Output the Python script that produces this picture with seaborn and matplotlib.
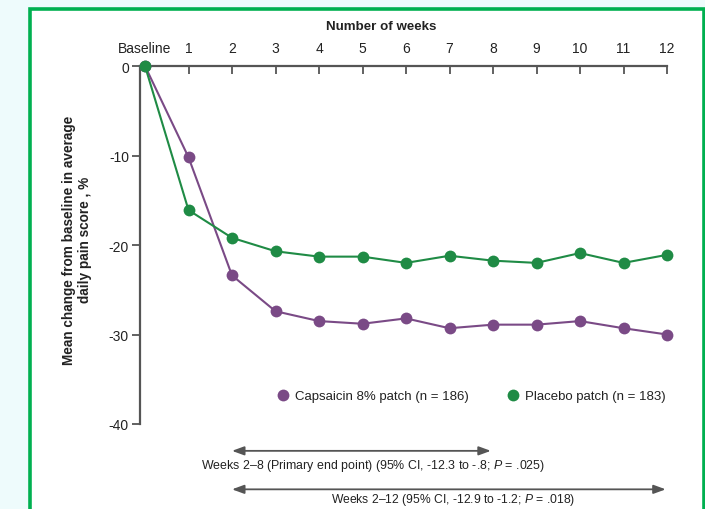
import matplotlib
matplotlib.use("Agg")
import matplotlib.pyplot as plt
import seaborn as sns
import pandas as pd
from matplotlib.patches import Rectangle
from matplotlib.lines import Line2D
from matplotlib import font_manager

weeks = list(range(0, 13))
week_labels = ["Baseline", "1", "2", "3", "4", "5", "6", "7", "8", "9", "10", "11", "12"]
capsaicin = [0, -10.2, -23.4, -27.4, -28.5, -28.8, -28.2, -29.3, -28.9, -28.9, -28.5, -29.3, -30.0]
placebo = [0, -16.1, -19.2, -20.7, -21.3, -21.3, -22.0, -21.2, -21.75, -22.0, -20.9, -22.0, -21.1]
series_names = ["Capsaicin 8% patch (n = 186)", "Placebo patch (n = 183)"]
y_ticks = [0, -10, -20, -30, -40]
y_tick_labels = ["0", "-10", "-20", "-30", "-40"]
text_8 = r"Weeks 2–8 (Primary end point) (95% CI, -12.3 to -.8; $\it{P}$ = .025)"
text_12 = r"Weeks 2–12 (95% CI, -12.9 to -1.2; $\it{P}$ = .018)"

df = pd.DataFrame({
    "week": weeks * 2,
    "value": capsaicin + placebo,
    "group": [series_names[0]] * len(weeks) + [series_names[1]] * len(weeks),
})

sns.set_theme(style="white")
names = {f.name for f in font_manager.fontManager.ttflist}
base = "Liberation Sans Narrow" if "Liberation Sans Narrow" in names else "Liberation Sans"
plt.rcParams["font.family"] = [base, "DejaVu Sans"]
plt.rcParams["mathtext.fontset"] = "custom"
plt.rcParams["mathtext.it"] = base + ":italic"
plt.rcParams["mathtext.rm"] = base

purple = "#7a4a86"
green = "#1f8b45"
grey = "#555555"
txt = "#222222"
W, H = 705, 510
fig = plt.figure(figsize=(7.05, 5.1), dpi=100)
fig.patch.set_facecolor("#eefbfc")
fig.patches.append(Rectangle((30 / W, -0.1), (703.5 - 30) / W, 1.1 - 9.5 / H,
                             transform=fig.transFigure, facecolor="white",
                             edgecolor="#00b050", linewidth=2.6, zorder=-5))

ax = fig.add_axes([140 / W, 1 - 425 / H, (667 - 140) / W, (425 - 67) / H])
ax.set_zorder(1)
ax.set_facecolor("none")
sns.lineplot(data=df, x="week", y="value", hue="group", palette=[purple, green],
             marker="o", markersize=8.5, markeredgewidth=0, linewidth=1.5,
             ax=ax, legend=False, zorder=3)
for ln in ax.lines:
    ln.set_clip_on(False)

ax.set_xlim(-0.115, 12)
ax.set_ylim(-40, 0)
for s in ["right", "bottom"]:
    ax.spines[s].set_visible(False)
for s in ["left", "top"]:
    ax.spines[s].set_color(grey)
    ax.spines[s].set_linewidth(1.6)
ax.xaxis.set_ticks_position("top")
ax.xaxis.set_label_position("top")
ax.set_xticks(weeks)
ax.set_xticklabels(week_labels)
ax.tick_params(axis="x", direction="in", length=6, width=1.3, color=grey,
               labelsize=10, pad=8, labelcolor=txt, top=True, bottom=False)
ax.set_yticks(y_ticks)
ax.set_yticklabels(y_tick_labels)
ax.tick_params(axis="y", direction="out", length=6, width=1.3, color=grey,
               labelsize=10, pad=2, labelcolor=txt, left=True)
ax.xaxis.get_major_ticks()[0].tick2line.set_visible(False)
ax.set_xlabel("")
ax.set_ylabel("")
fig.text(381 / W, 1 - 27 / H, "Number of weeks", ha="center", va="center",
         fontsize=9.6, fontweight="bold", color=txt)
fig.text(77 / W, 1 - 240 / H, "Mean change from baseline in average\ndaily pain score , %",
         rotation=90, ha="center", va="center", fontsize=9.8, fontweight="bold",
         color=txt, linespacing=1.2)

handles = [Line2D([], [], marker="o", linestyle="none", color=c, markersize=8.5,
                  markeredgewidth=0) for c in [purple, green]]
leg = ax.legend(handles, series_names, loc="center", bbox_to_anchor=((471 - 140) / 527, (425 - 397) / 358),
                ncol=2, frameon=False, fontsize=9.5, handletextpad=0.4, columnspacing=2.9,
                handlelength=1.0, borderpad=0, borderaxespad=0)
for t in leg.get_texts():
    t.set_color(txt)

arrow_kw = dict(arrowstyle="<|-|>,head_length=0.6,head_width=0.22", color=grey, lw=1.3,
                shrinkA=0, shrinkB=0)
ax.annotate("", xy=(2, -43.0), xytext=(7.95, -43.0), arrowprops=arrow_kw, annotation_clip=False)
ax.annotate("", xy=(2, -47.3), xytext=(11.97, -47.3), arrowprops=arrow_kw, annotation_clip=False)
ax.text(373 / W, 1 - 466 / H, text_8, transform=fig.transFigure, ha="center", va="center",
        fontsize=8.9, color=txt)
ax.text(453 / W, 1 - 500 / H, text_12, transform=fig.transFigure, ha="center", va="center",
        fontsize=8.7, color=txt)

fig.savefig("out.png", dpi=100, facecolor=fig.get_facecolor())
